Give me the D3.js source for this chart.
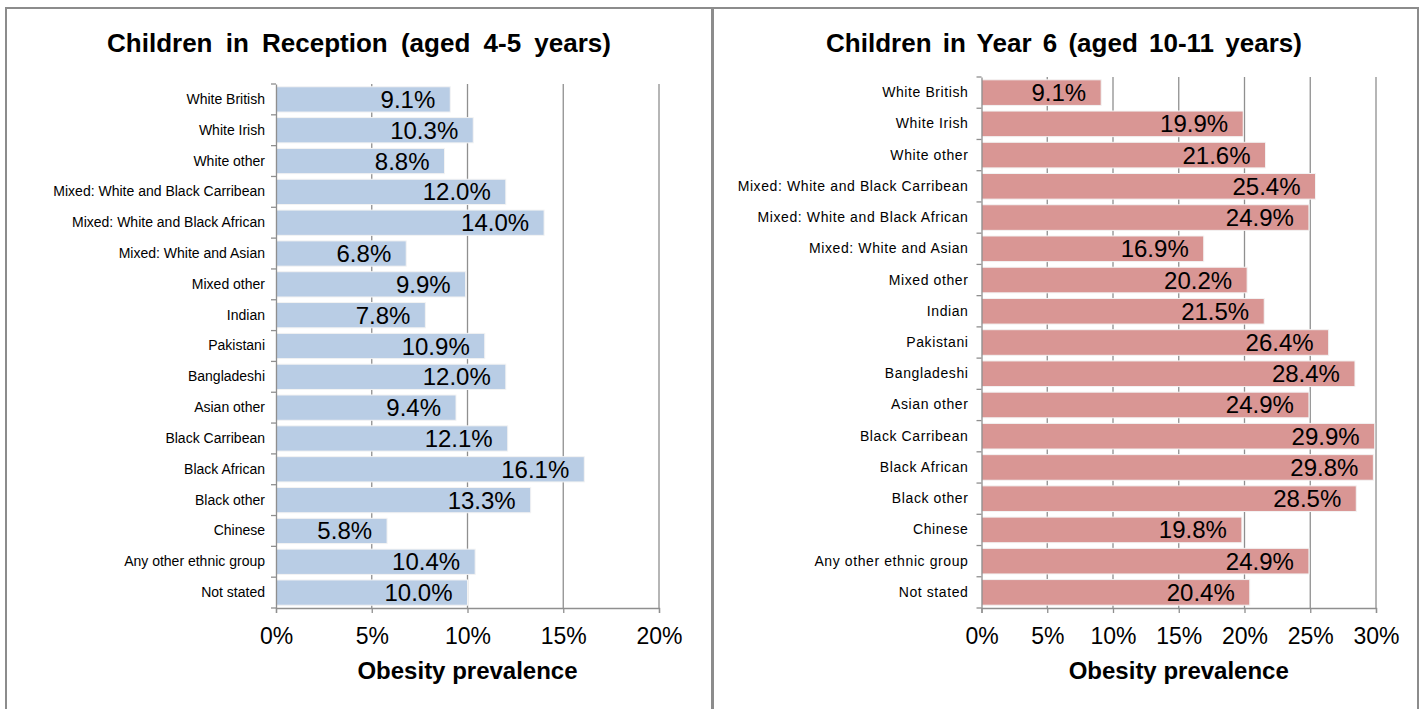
<!DOCTYPE html>
<html><head><meta charset="utf-8">
<script src="https://cdn.jsdelivr.net/npm/d3@7"></script>
<style>body{margin:0;background:#fff;}svg{display:block;font-family:Arial,"Liberation Sans",sans-serif;}</style>
</head><body>
<svg id="c" width="1422" height="709"></svg>
<script>
const categories = ["White British","White Irish","White other","Mixed: White and Black Carribean","Mixed: White and Black African","Mixed: White and Asian","Mixed other","Indian","Pakistani","Bangladeshi","Asian other","Black Carribean","Black African","Black other","Chinese","Any other ethnic group","Not stated"];
const receptionValues = [9.1,10.3,8.8,12.0,14.0,6.8,9.9,7.8,10.9,12.0,9.4,12.1,16.1,13.3,5.8,10.4,10.0];
const year6Values = [9.1,19.9,21.6,25.4,24.9,16.9,20.2,21.5,26.4,28.4,24.9,29.9,29.8,28.5,19.8,24.9,20.4];
const receptionTicks = [0,5,10,15,20];
const year6Ticks = [0,5,10,15,20,25,30];
const titles = ["Children in Reception (aged 4-5 years)","Children in Year 6 (aged 10-11 years)"];
const axisTitle = "Obesity prevalence";

const svg = d3.select("#c");
// panel frames
svg.append("rect").attr("x",6).attr("y",8).attr("width",706).attr("height",720).attr("fill","none").attr("stroke","#8c8c8c").attr("stroke-width",2);
svg.append("rect").attr("x",713).attr("y",8).attr("width",705).attr("height",720).attr("fill","none").attr("stroke","#8c8c8c").attr("stroke-width",2);

function panel(cfg){
  const g = svg.append("g");
  const x = d3.scaleLinear().domain([0, d3.max(cfg.ticks)]).range([cfg.x0, cfg.x1]);
  const y = d3.scaleBand().domain(categories).range([cfg.top, cfg.bottom]).paddingInner(0.18).paddingOuter(0.09);
  // gridlines
  g.selectAll(".grid").data(cfg.ticks.slice(1)).join("line")
    .attr("x1",d=>x(d)).attr("x2",d=>x(d)).attr("y1",cfg.top).attr("y2",cfg.bottom)
    .attr("stroke","#8f8f8f").attr("stroke-width",1.3);
  // bars
  g.selectAll(".bar").data(cfg.values).join("rect")
    .attr("x",x(0)).attr("y",(d,i)=>y(categories[i]))
    .attr("width",d=>x(d)-x(0)).attr("height",y.bandwidth())
    .attr("fill",cfg.color).attr("stroke","#f3f3f3").attr("stroke-width",1);
  // value labels
  g.selectAll(".val").data(cfg.values).join("text")
    .attr("x",d=>x(d)-15).attr("y",(d,i)=>y(categories[i])+y.bandwidth()/2+8.5)
    .attr("text-anchor","end").attr("font-size",24).attr("fill","#000")
    .text(d=>d.toFixed(1)+"%");
  // category axis
  const ya = d3.axisLeft(y).tickSize(0).tickPadding(cfg.catPad);
  const yg = g.append("g").attr("transform",`translate(${cfg.x0},0)`).call(ya);
  yg.select(".domain").attr("stroke","#8f8f8f").attr("stroke-width",1.3);
  yg.selectAll("text").attr("font-size",14).attr("fill","#000").attr("letter-spacing",cfg.catLS)
    .attr("font-family","Arial,'Liberation Sans',sans-serif");
  // band boundary ticks
  const bounds = categories.map(c=>y(c)-y.step()*y.paddingInner()/2);
  bounds.push(cfg.bottom);
  g.selectAll(".bt").data(bounds).join("line")
    .attr("x1",cfg.x0-5).attr("x2",cfg.x0).attr("y1",d=>d).attr("y2",d=>d)
    .attr("stroke","#8f8f8f").attr("stroke-width",1.3);
  // value axis
  const xa = d3.axisBottom(x).tickValues(cfg.ticks).tickSize(5).tickPadding(15).tickFormat(d=>d+"%");
  const xg = g.append("g").attr("transform",`translate(0,${cfg.bottom})`).call(xa);
  xg.select(".domain").attr("stroke","#8f8f8f").attr("stroke-width",1.3);
  xg.selectAll(".tick line").attr("stroke","#8f8f8f").attr("stroke-width",1.3);
  xg.selectAll("text").attr("font-size",23).attr("fill","#000").attr("font-family","Arial,'Liberation Sans',sans-serif");
  // titles
  g.append("text").attr("x",cfg.titleX).attr("y",52).attr("text-anchor","middle")
    .attr("font-size",26).attr("font-weight","bold").attr("word-spacing",cfg.titleWS).text(cfg.title);
  g.append("text").attr("x",(cfg.x0+cfg.x1)/2).attr("y",679).attr("text-anchor","middle")
    .attr("font-size",24).attr("font-weight","bold").text(axisTitle);
}

panel({values:receptionValues,ticks:receptionTicks,color:"#b9cde5",x0:276,x1:659,top:84,bottom:608,title:titles[0],titleX:359,titleWS:6,catPad:11,catLS:0});
panel({values:year6Values,ticks:year6Ticks,color:"#d99694",x0:981.5,x1:1376,top:77,bottom:608,title:titles[1],titleX:1064,titleWS:4,catPad:13,catLS:0.6});
</script>
</body></html>
